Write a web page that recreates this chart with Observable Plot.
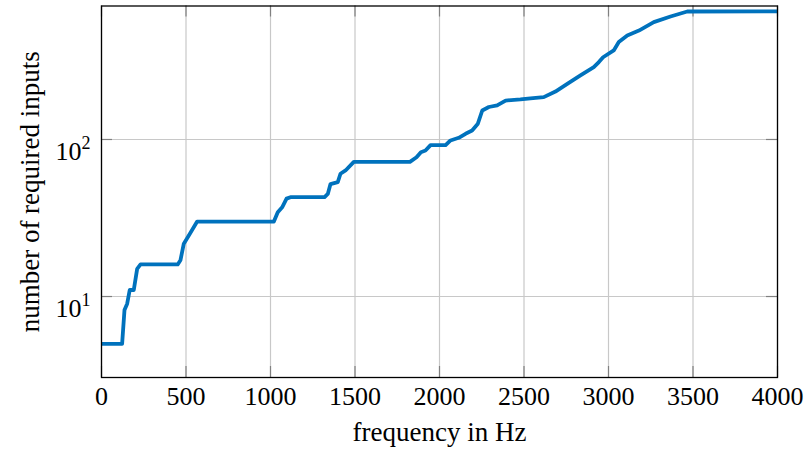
<!DOCTYPE html>
<html>
<head>
<meta charset="utf-8">
<script src="https://cdn.jsdelivr.net/npm/d3@7"></script>
<script src="https://cdn.jsdelivr.net/npm/@observablehq/plot@0.6"></script>
<style>
  html, body { margin: 0; padding: 0; background: white; }
</style>
</head>
<body>
<div id="chart"></div>
<script>
// Data
const frequency = [0, 122, 136, 152, 167, 191, 211, 231, 451, 467, 487, 522, 566, 1020, 1043, 1069, 1095, 1122, 1320, 1339, 1355, 1398, 1414, 1444, 1493, 1825, 1864, 1890, 1917, 1947, 2036, 2065, 2114, 2154, 2193, 2227, 2253, 2292, 2341, 2391, 2479, 2538, 2617, 2686, 2756, 2834, 2913, 2943, 2968, 3031, 3061, 3111, 3180, 3268, 3367, 3466, 4000];
const requiredInputs = [5, 5, 8.2, 9, 11, 11, 15, 16, 16, 17, 21.7, 25, 30, 30, 34.4, 37, 42, 43, 43, 45, 52, 53.5, 60.5, 63.5, 72, 72, 77, 83, 85, 92, 92, 98.6, 102.5, 108.7, 114, 126, 153, 161, 165, 177, 180, 183, 186, 202, 226, 256, 289, 311, 334, 369, 417, 460, 494, 559, 607, 653, 655];
const xTicks = [0, 500, 1000, 1500, 2000, 2500, 3000, 3500, 4000];
const yTicks = [10, 100];
const xLabel = "frequency in Hz";
const yLabel = "number of required inputs";

const data = frequency.map((f, i) => ({f, n: requiredInputs[i]}));

const W = 804, H = 449;
const mL = 101, mR = 27, mT = 5.5, mB = 72;
const plotW = W - mL - mR, plotH = H - mT - mB;
const font = "'Liberation Serif', 'Times New Roman', serif";

const chart = Plot.plot({
  width: W,
  height: H,
  marginLeft: mL,
  marginRight: mR,
  marginTop: mT,
  marginBottom: mB,
  style: {fontFamily: font, fontSize: "26px", background: "white", color: "black", overflow: "visible"},
  x: {domain: [0, 4000]},
  y: {type: "log", domain: [3.05, 708]},
  marks: [
    Plot.gridX(xTicks, {stroke: "#c8c8c8", strokeOpacity: 1, strokeWidth: 1.2}),
    Plot.gridY(yTicks, {stroke: "#c8c8c8", strokeOpacity: 1, strokeWidth: 1.2}),
    Plot.tickX(xTicks, {x: d => d, insetTop: plotH - 11, stroke: "#808080", strokeWidth: 1.2}),
    Plot.tickX(xTicks, {x: d => d, insetBottom: plotH - 11, stroke: "#808080", strokeWidth: 1.2}),
    Plot.tickY(yTicks, {y: d => d, insetRight: plotW - 11, stroke: "#808080", strokeWidth: 1.2}),
    Plot.tickY(yTicks, {y: d => d, insetLeft: plotW - 11, stroke: "#808080", strokeWidth: 1.2}),
    Plot.lineY(data, {x: "f", y: "n", stroke: "#0072BD", strokeWidth: 3.8, strokeLinejoin: "round", clip: true}),
    Plot.frame({stroke: "black", strokeWidth: 1.3}),
    Plot.axisX(xTicks, {tickSize: 0, tickPadding: 9.5, fontSize: 26, label: null, tickFormat: d => String(d)}),
    Plot.axisY(yTicks, {tickSize: 0, tickPadding: 11, fontSize: 26, label: null, tickFormat: d => String(Math.round(Math.log10(d)))}),
    Plot.text([xLabel], {frameAnchor: "bottom", dy: 44, lineAnchor: "top", textAnchor: "middle", fontSize: 27, text: d => d}),
    Plot.text([yLabel], {frameAnchor: "left", dx: -71.6, rotate: -90, textAnchor: "middle", lineAnchor: "middle", fontSize: 27, text: d => d})
  ]
});

// Render y tick labels as 10 with a superscript exponent
chart.querySelectorAll('g[aria-label="y-axis tick label"] text').forEach(t => {
  const exp = t.textContent;
  t.textContent = "";
  t.setAttribute("dy", "12");
  const base = document.createElementNS("http://www.w3.org/2000/svg", "tspan");
  base.textContent = "10";
  const sup = document.createElementNS("http://www.w3.org/2000/svg", "tspan");
  sup.textContent = exp;
  sup.setAttribute("dy", "-10.7");
  sup.setAttribute("font-size", "18");
  t.appendChild(base);
  t.appendChild(sup);
});

document.getElementById("chart").appendChild(chart);
</script>
</body>
</html>
